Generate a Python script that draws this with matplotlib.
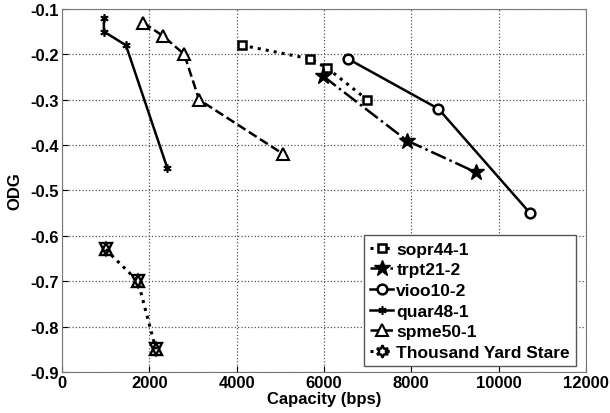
import matplotlib
matplotlib.use("Agg")
import matplotlib.pyplot as plt

plt.rcParams['font.family'] = ['Liberation Sans', 'DejaVu Sans']
plt.rcParams['font.weight'] = 'bold'

# capacity (bps) vs ODG for each test file
sopr_x = [4120, 5680, 6070, 6990]
sopr_y = [-0.18, -0.21, -0.23, -0.30]
trpt_x = [5980, 7900, 9480]
trpt_y = [-0.248, -0.39, -0.46]
vioo_x = [6550, 8620, 10720]
vioo_y = [-0.21, -0.32, -0.55]
quar_x = [960, 960, 1465, 2410]
quar_y = [-0.12, -0.15, -0.18, -0.45]
spme_x = [1860, 2320, 2800, 3140, 5070]
spme_y = [-0.13, -0.16, -0.20, -0.30, -0.42]
tys_x = [1000, 1740, 2150]
tys_y = [-0.63, -0.70, -0.85]

xticks = [0, 2000, 4000, 6000, 8000, 10000, 12000]
yticks = [-0.9, -0.8, -0.7, -0.6, -0.5, -0.4, -0.3, -0.2, -0.1]

fig = plt.figure(figsize=(6.1, 4.14), dpi=100)
ax = fig.add_axes([0.1016, 0.099, 0.859, 0.877])

lw = 1.8
ax.plot(sopr_x, sopr_y, ':', color='k', lw=2.2, marker='s', ms=6, mfc='white', mew=1.8, label='sopr44-1')
ax.plot(trpt_x, trpt_y, '-.', color='k', lw=lw, marker='*', ms=12, mfc='k', label='trpt21-2')
ax.plot(vioo_x, vioo_y, '-', color='k', lw=lw, marker='o', ms=7, mfc='white', mew=1.8, label='vioo10-2')
ax.plot(quar_x, quar_y, '-', color='k', lw=lw, marker=(6, 2, 0), ms=6, mew=1.2, label='quar48-1')
ax.plot(spme_x, spme_y, '--', color='k', lw=lw, marker='^', ms=8, mfc='white', mew=1.5, label='spme50-1')
ax.plot(tys_x, tys_y, ':', color='k', lw=2.2)
# hexagram marker built from two triangles
ax.plot(tys_x, tys_y, ls='none', marker='^', ms=9, mfc='none', mec='k', mew=1.7)
ax.plot(tys_x, tys_y, ls='none', marker='v', ms=9, mfc='none', mec='k', mew=1.7)
ax.plot([], [], ':', color='k', lw=2.2, marker=(6, 1, 0), ms=9, mfc='white', mew=1.7, label='Thousand Yard Stare')

ax.set_xlim(0, 12000)
ax.set_ylim(-0.9, -0.1)
ax.set_xticks(xticks)
ax.set_yticks(yticks)
ax.set_xticklabels([str(v) for v in xticks])
ax.set_yticklabels(['%g' % v for v in yticks])
ax.tick_params(labelsize=12, direction='in', length=4, pad=2)
ax.grid(True, ls=':', color='#555555', lw=0.9)
for sp in ax.spines.values():
    sp.set_color('#777777')

ax.set_xlabel('Capacity (bps)', fontsize=12, fontweight='bold', labelpad=1)
ax.set_ylabel('ODG', fontsize=12, fontweight='bold', labelpad=6)

leg = ax.legend(loc='lower right', bbox_to_anchor=(0.981, 0.016), fontsize=12.5,
                handlelength=1.3, handletextpad=0.2, labelspacing=0.32, borderpad=0.35,
                fancybox=False, framealpha=1, edgecolor='#555555', borderaxespad=0)
leg.get_frame().set_linewidth(1)

fig.savefig('out.png', dpi=100)
